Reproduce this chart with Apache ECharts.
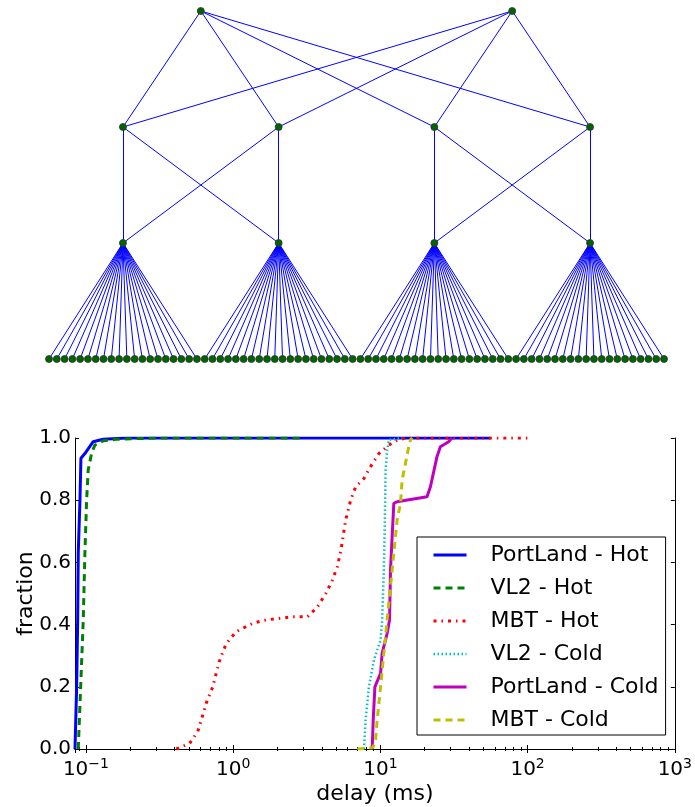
<!DOCTYPE html>
<html>
<head>
    <meta charset="utf-8">
    <title>fat tree + delay cdf</title>
    <style>
        * { margin: 0; padding: 0; }
        html, body { width: 100%; height: 100%; background: #fff; }
        #main { width: 695px; height: 807px; }
    </style>
</head>
<body>
<div id="main"></div>
<script src="https://cdn.jsdelivr.net/npm/echarts@6/dist/echarts.min.js"></script>
<script>
    // 拓扑：2 core, 4 agg, 4 edge, 每个 edge 下 20 台 host
    const coreCount = 2;
    const aggCount = 4;
    const edgeCount = 4;
    const hostsPerEdge = 20;
    const aggPerPod = 2;

    // CDF 数据 [delay(ms), fraction]
    const portlandHot = [[0.0843, 0], [0.0865, 0.2], [0.0879, 0.415], [0.0887, 0.63], [0.0911, 0.8], [0.0925, 0.935],
        [0.0984, 0.95], [0.112, 0.988], [0.131, 0.996], [0.189, 1.0], [56, 1.0]];
    const vl2Hot = [[0.0887, 0], [0.0921, 0.2], [0.0959, 0.415], [0.0984, 0.629], [0.1011, 0.8], [0.1036, 0.897],
        [0.1093, 0.951], [0.115, 0.977], [0.131, 0.991], [0.161, 0.996], [0.3, 1.0], [3, 1.0]];
    const mbtHot = [[0.411, 0], [0.506, 0.018], [0.575, 0.056], [0.662, 0.152], [0.727, 0.2], [0.767, 0.243],
        [0.816, 0.29], [0.896, 0.338], [1.047, 0.377], [1.356, 0.404], [1.671, 0.415], [2.53, 0.425], [3.2, 0.425],
        [3.74, 0.457], [4.26, 0.5], [4.72, 0.543], [5.1, 0.586], [5.4, 0.64], [5.81, 0.736], [6.28, 0.8], [6.8, 0.843],
        [7.73, 0.87], [8.58, 0.908], [9.77, 0.95], [11.4, 0.977], [13.0, 0.993], [15, 1.0], [104, 1.0]];
    const vl2Cold = [[7.73, 0], [7.94, 0.093], [8.36, 0.2], [9.04, 0.286], [10.03, 0.35], [10.28, 0.415],
        [10.56, 0.576], [10.73, 0.736], [10.85, 0.897], [11.12, 0.961], [11.41, 0.994], [14, 1.0]];
    const portlandCold = [[8.8, 0], [8.94, 0.093], [9.18, 0.2], [10.03, 0.243], [10.28, 0.308], [11.12, 0.372],
        [11.54, 0.415], [11.72, 0.576], [12.02, 0.683], [12.34, 0.79], [12.99, 0.795], [20.74, 0.811],
        [21.87, 0.843], [24.24, 0.94], [25.56, 0.972], [29.08, 0.988], [30.6, 1.0]];
    const mbtCold = [[6.97, 0], [8.9, 0.004], [9.28, 0.03], [9.51, 0.093], [10.03, 0.2], [10.56, 0.308],
        [11.12, 0.415], [12.02, 0.576], [12.99, 0.736], [13.7, 0.79], [14.05, 0.865], [14.81, 0.919],
        [15.59, 0.972], [16.01, 0.994], [16.5, 1.0]];

    const xTicks = [0.1, 1, 10, 100, 1000];
    const yTicks = [0, 0.2, 0.4, 0.6, 0.8, 1.0];

    // ---------- 拓扑节点 / 连线 ----------
    const nodes = [];
    const links = [];
    const hostIdx = [], edgeIdx = [], aggIdx = [], coreIdx = [];
    for (let i = 0; i < edgeCount * hostsPerEdge; i++) {
        hostIdx.push(nodes.length);
        nodes.push({ value: [i, 0] });
    }
    for (let e = 0; e < edgeCount; e++) {
        const x = e * hostsPerEdge + (hostsPerEdge - 1) / 2;
        edgeIdx.push(nodes.length);
        nodes.push({ value: [x, 1] });
        for (let h = 0; h < hostsPerEdge; h++) {
            links.push({ source: edgeIdx[e], target: hostIdx[e * hostsPerEdge + h] });
        }
    }
    for (let a = 0; a < aggCount; a++) {
        aggIdx.push(nodes.length);
        nodes.push({ value: [nodes[edgeIdx[a]].value[0], 2] });
        const pod = Math.floor(a / aggPerPod);
        for (let k = 0; k < aggPerPod; k++) {
            links.push({ source: aggIdx[a], target: edgeIdx[pod * aggPerPod + k] });
        }
    }
    for (let c = 0; c < coreCount; c++) {
        let sx = 0;
        for (let k = 0; k < aggPerPod; k++) sx += nodes[aggIdx[c * aggPerPod + k]].value[0];
        coreIdx.push(nodes.length);
        nodes.push({ value: [sx / aggPerPod, 3] });
        for (let a = 0; a < aggCount; a++) {
            links.push({ source: coreIdx[c], target: aggIdx[a] });
        }
    }

    // ---------- 图表 ----------
    const FONT = 'DejaVu Sans';
    const axisColor = '#000';

    function logLabel(v) {
        const e = Math.round(Math.log10(v));
        if (xTicks.indexOf(v) < 0 && Math.abs(v - Math.pow(10, e)) > 1e-9) return '';
        return '{b|10}{s|' + (e < 0 ? '\u2212' + (-e) : e) + '}';
    }

    const styles = [
        { name: 'PortLand - Hot', data: portlandHot, color: '#0000ff', width: 3, type: 'solid' },
        { name: 'VL2 - Hot', data: vl2Hot, color: '#008000', width: 3, type: [7, 5] },
        { name: 'MBT - Hot', data: mbtHot, color: '#ff0000', width: 3, type: [3, 5, 1.5, 5] },
        { name: 'VL2 - Cold', data: vl2Cold, color: '#00bfbf', width: 2.5, type: [1.5, 2.5] },
        { name: 'PortLand - Cold', data: portlandCold, color: '#bf00bf', width: 3, type: 'solid' },
        { name: 'MBT - Cold', data: mbtCold, color: '#bfbf00', width: 3, type: [7, 5] }
    ];
    const series = styles.map(s => ({
        name: s.name,
        type: 'line',
        xAxisIndex: 1,
        yAxisIndex: 1,
        data: s.data,
        symbol: 'none',
        animation: false,
        color: s.color,
        lineStyle: { color: s.color, width: s.width, type: s.type, cap: 'butt' }
    }));

    series.unshift({
        type: 'graph',
        coordinateSystem: 'cartesian2d',
        xAxisIndex: 0,
        yAxisIndex: 0,
        data: nodes,
        links: links,
        symbol: 'circle',
        symbolSize: 7,
        itemStyle: { color: '#006400', borderColor: '#333', borderWidth: 0.8 },
        lineStyle: { color: '#0000ff', width: 1, opacity: 1 },
        silent: true,
        animation: false,
        z: 2
    });

    const chart = echarts.init(document.getElementById('main'));
    chart.setOption({
        animation: false,
        textStyle: { fontFamily: FONT },
        grid: [
            { left: 49, top: 11, width: 615, height: 348 },
            { left: 75, top: 438, width: 602, height: 311 }
        ],
        xAxis: [
            { gridIndex: 0, type: 'value', min: 0, max: edgeCount * hostsPerEdge - 1, show: false },
            {
                gridIndex: 1, type: 'log', logBase: 10, min: 0.0843, max: 1000, position: 'bottom',
                name: 'delay (ms)', nameLocation: 'middle', nameGap: 34, nameMoveOverlap: false,
                nameTextStyle: { fontSize: 22, color: '#000', fontFamily: FONT },
                axisLine: { lineStyle: { color: axisColor, width: 1 } },
                axisTick: { inside: true, length: 4, lineStyle: { color: axisColor } },
                minorTick: { show: true, splitNumber: 9, length: 2, lineStyle: { color: axisColor } },
                splitLine: { show: false },
                axisLabel: {
                    margin: 8, color: '#000', formatter: logLabel,
                    rich: {
                        b: { fontSize: 20, fontFamily: FONT, color: '#000' },
                        s: { fontSize: 14, fontFamily: FONT, color: '#000', padding: [0, 0, 12, 0] }
                    }
                }
            },
            {
                gridIndex: 1, type: 'log', logBase: 10, min: 0.0843, max: 1000, position: 'top',
                axisLine: { lineStyle: { color: axisColor, width: 1 } },
                axisTick: { inside: true, length: 4, lineStyle: { color: axisColor } },
                minorTick: { show: true, splitNumber: 9, length: 2, lineStyle: { color: axisColor } },
                splitLine: { show: false },
                axisLabel: { show: false }
            }
        ],
        yAxis: [
            { gridIndex: 0, type: 'value', min: 0, max: 3, show: false },
            {
                gridIndex: 1, type: 'value', min: yTicks[0], max: yTicks[yTicks.length - 1], interval: 0.2,
                name: 'fraction', nameLocation: 'middle', nameGap: 38, nameMoveOverlap: false,
                nameTextStyle: { fontSize: 22, color: '#000', fontFamily: FONT },
                axisLine: { show: true, lineStyle: { color: axisColor, width: 1 } },
                axisTick: { show: true, inside: true, length: 4, lineStyle: { color: axisColor } },
                splitLine: { show: false },
                axisLabel: { margin: 4, fontSize: 20, color: '#000', formatter: v => v.toFixed(1) }
            },
            {
                gridIndex: 1, type: 'value', min: 0, max: 1, interval: 0.2, position: 'right',
                axisLine: { show: true, lineStyle: { color: axisColor, width: 1 } },
                axisTick: { show: true, inside: true, length: 4, lineStyle: { color: axisColor } },
                splitLine: { show: false },
                axisLabel: { show: false }
            }
        ],
        legend: {
            data: styles.map(s => ({
                name: s.name,
                itemStyle: { opacity: 0, borderWidth: 0 },
                lineStyle: { color: s.color, width: s.width, type: s.type, cap: 'butt' }
            })),
            orient: 'vertical',
            left: 417,
            top: 537,
            padding: [7, 7, 4, 15],
            itemGap: 11,
            itemWidth: 33,
            itemHeight: 14,
            backgroundColor: '#fff',
            borderColor: '#000',
            borderWidth: 1,
            borderRadius: 0,
            textStyle: { fontSize: 22, color: '#000', fontFamily: FONT, padding: [0, 0, 0, 19] },
            selectedMode: false
        },
        series: series
    });
</script>
</body>
</html>
